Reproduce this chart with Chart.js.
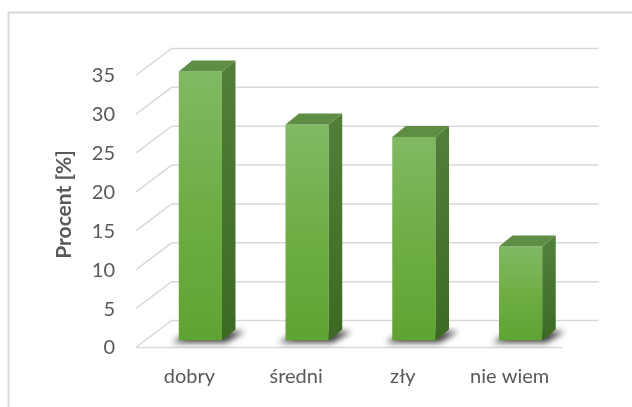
<!DOCTYPE html>
<html>
<head>
<meta charset="utf-8">
<script src="https://cdn.jsdelivr.net/npm/chart.js@4.4.1/dist/chart.umd.min.js"></script>
<style>
  html, body { margin: 0; padding: 0; background: #fff; }
</style>
</head>
<body>
<canvas id="chart" width="632" height="407"></canvas>
<script>
const categories = ['dobry', 'średni', 'zły', 'nie wiem'];
const values = [34.6, 27.8, 26.2, 12.1];
const yTicks = [0, 5, 10, 15, 20, 25, 30, 35];

// 3D projection offsets (pixels)
const FRONT = { dx: -11.3, dy: 7 };    // floor front edge relative to bar fronts
const WALL = { dx: 36, dy: -27 };      // back wall relative to floor front edge
const DEPTH = { dx: 13.5, dy: -11 };   // bar depth

const gridColor = '#d9d9d9';
const textColor = '#595959';

const frame = {
    id: 'frame',
    beforeDraw(chart) {
        const c = chart.ctx;
        c.save();
        c.fillStyle = '#fff';
        c.fillRect(0, 0, chart.width, chart.height);
        c.strokeStyle = gridColor;
        c.lineWidth = 2;
        c.strokeRect(8.5, 12.5, 700, 500);
        c.restore();
    }
};

const walls = {
    id: 'walls',
    beforeDatasetsDraw(chart) {
        const c = chart.ctx;
        const { left, right } = chart.chartArea;
        const y = chart.scales.y;
        c.save();
        c.strokeStyle = gridColor;
        c.lineWidth = 1.5;
        yTicks.forEach(v => {
            const fx = left + FRONT.dx, fy = y.getPixelForValue(v) + FRONT.dy;
            const bx = fx + WALL.dx, by = fy + WALL.dy;
            c.beginPath();
            c.moveTo(fx, fy);
            c.lineTo(bx, by);
            c.lineTo(right + FRONT.dx + WALL.dx, by);
            if (v === 0) {
                c.moveTo(fx, fy);
                c.lineTo(right + FRONT.dx, fy);
            }
            c.stroke();
        });

        // floor shadows under the columns
        const meta = chart.getDatasetMeta(0);
        c.filter = 'blur(3px)';
        c.fillStyle = 'rgba(35,35,35,0.9)';
        meta.data.forEach(bar => {
            const x0 = bar.x - bar.width / 2, x1 = bar.x + bar.width / 2, b = bar.base;
            c.beginPath();
            c.moveTo(x0 - 7, b + 2);
            c.lineTo(x1 + 4, b + 2);
            c.lineTo(x1 + DEPTH.dx + 9, b + DEPTH.dy + 2);
            c.lineTo(x0 + DEPTH.dx, b + DEPTH.dy + 2);
            c.closePath();
            c.fill();
        });
        c.restore();
    },
    afterDatasetsDraw(chart) {
        const c = chart.ctx;
        const meta = chart.getDatasetMeta(0);
        c.save();
        meta.data.forEach(bar => {
            const x0 = bar.x - bar.width / 2, x1 = bar.x + bar.width / 2;
            const top = bar.y, base = bar.base;
            // side
            const g = c.createLinearGradient(0, top, 0, base);
            g.addColorStop(0, '#517f38');
            g.addColorStop(1, '#3c6a22');
            c.fillStyle = g;
            c.beginPath();
            c.moveTo(x1, top);
            c.lineTo(x1 + DEPTH.dx, top + DEPTH.dy);
            c.lineTo(x1 + DEPTH.dx, base + DEPTH.dy);
            c.lineTo(x1, base);
            c.closePath();
            c.fill();
            // top
            c.fillStyle = '#5e8d44';
            c.beginPath();
            c.moveTo(x0, top);
            c.lineTo(x0 + DEPTH.dx, top + DEPTH.dy);
            c.lineTo(x1 + DEPTH.dx, top + DEPTH.dy);
            c.lineTo(x1, top);
            c.closePath();
            c.fill();
        });
        c.restore();
    }
};

function frontFill(ctx) {
    const chart = ctx.chart;
    const y = chart.scales.y;
    if (!y || ctx.type !== 'data') return '#6aab3e';
    const top = y.getPixelForValue(ctx.raw), base = y.getPixelForValue(0);
    if (!isFinite(top) || !isFinite(base)) return '#6aab3e';
    const g = chart.ctx.createLinearGradient(0, top, 0, base);
    g.addColorStop(0, '#80b963');
    g.addColorStop(0.5, '#6eae45');
    g.addColorStop(1, '#60a333');
    return g;
}

new Chart(document.getElementById('chart'), {
    type: 'bar',
    data: {
        labels: categories,
        datasets: [{
            data: values,
            backgroundColor: frontFill,
            borderWidth: 0,
            categoryPercentage: 1,
            barPercentage: 0.405,
        }]
    },
    options: {
        responsive: false,
        animation: false,
        layout: { padding: { left: 48, right: 58, top: 68.5, bottom: 0 } },
        plugins: { legend: { display: false }, tooltip: { enabled: false } },
        scales: {
            x: {
                grid: { display: false, drawTicks: false },
                border: { display: false },
                ticks: { color: textColor, font: { family: 'Lato', size: 20 }, padding: 24, labelOffset: -11, maxRotation: 0 },
                afterFit: s => { s.height = 66.5; }
            },
            y: {
                min: 0, max: 35,
                afterBuildTicks: s => { s.ticks = yTicks.map(v => ({ value: v })); },
                grid: { display: false, drawTicks: false },
                border: { display: false },
                ticks: { color: textColor, font: { family: 'Lato', size: 20 }, padding: 32, labelOffset: 7.5 },
                title: { display: true, text: 'Procent [%]', color: textColor, font: { family: 'Lato', size: 21, weight: 'bold' } },
                afterFit: s => { s.width = 99; }
            }
        }
    },
    plugins: [frame, walls]
});
</script>
</body>
</html>
